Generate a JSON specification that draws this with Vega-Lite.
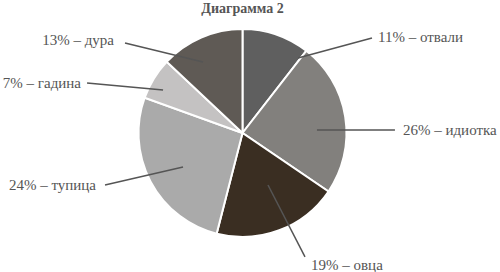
{
  "$schema": "https://vega.github.io/schema/vega-lite/v6.json",
  "autosize": "none",
  "width": 485,
  "height": 234,
  "padding": {"left": 0, "top": 16, "right": 15, "bottom": 22},
  "background": "white",
  "title": {
    "text": "Диаграмма 2",
    "anchor": "middle",
    "frame": "group",
    "offset": 0,
    "font": "Times New Roman, Liberation Serif, serif",
    "fontSize": 14,
    "fontWeight": "bold",
    "color": "#555555"
  },
  "config": {"view": {"stroke": null}},
  "datasets": {
    "slices": [
      {"name": "отвали", "value": 10.5, "ord": 1},
      {"name": "идиотка", "value": 24, "ord": 2},
      {"name": "овца", "value": 19.5, "ord": 3},
      {"name": "тупица", "value": 26.5, "ord": 4},
      {"name": "гадина", "value": 6.5, "ord": 5},
      {"name": "дура", "value": 13, "ord": 6}
    ],
    "callouts": [
      {"name": "отвали", "text": "11% – отвали", "side": "right", "u1": 0.534, "v1": 0.721, "u2": 1.245, "v2": 0.913, "lu": 1.303, "lv": 0.923},
      {"name": "идиотка", "text": "26% – идиотка", "side": "right", "u1": 0.716, "v1": 0.029, "u2": 1.466, "v2": 0.029, "lu": 1.543, "lv": 0.029},
      {"name": "овца", "text": "19% – овца", "side": "right", "u1": 0.245, "v1": -0.5, "u2": 0.601, "v2": -1.192, "lu": 0.659, "lv": -1.269},
      {"name": "тупица", "text": "24% – тупица", "side": "left", "u1": -0.572, "v1": -0.327, "u2": -1.322, "v2": -0.5, "lu": -1.409, "lv": -0.5},
      {"name": "гадина", "text": "7% – гадина", "side": "left", "u1": -0.764, "v1": 0.413, "u2": -1.495, "v2": 0.481, "lu": -1.553, "lv": 0.481},
      {"name": "дура", "text": "13% – дура", "side": "left", "u1": -0.38, "v1": 0.683, "u2": -1.13, "v2": 0.865, "lu": -1.236, "lv": 0.894}
    ]
  },
  "layer": [
    {
      "data": {"name": "slices"},
      "mark": {"type": "arc", "outerRadius": 104, "stroke": "white", "strokeWidth": 2},
      "encoding": {
        "theta": {"field": "value", "type": "quantitative", "stack": true},
        "order": {"field": "ord", "type": "quantitative"},
        "color": {
          "field": "name",
          "type": "nominal",
          "legend": null,
          "scale": {
            "domain": ["отвали", "идиотка", "овца", "тупица", "гадина", "дура"],
            "range": ["#5f5f5f", "#82807d", "#3a2e22", "#aaaaaa", "#c4c2c2", "#5f5a55"]
          }
        }
      }
    },
    {
      "data": {"name": "callouts"},
      "mark": {"type": "rule", "color": "#555555", "strokeWidth": 1.5},
      "encoding": {
        "x": {"field": "u1", "type": "quantitative", "axis": null, "scale": {"domain": [-2.332, 2.332], "nice": false, "zero": false}},
        "y": {"field": "v1", "type": "quantitative", "axis": null, "scale": {"domain": [-1.125, 1.125], "nice": false, "zero": false}},
        "x2": {"field": "u2"},
        "y2": {"field": "v2"}
      }
    },
    {
      "data": {"name": "callouts"},
      "transform": [{"filter": "datum.side === 'right'"}],
      "mark": {"type": "text", "align": "left", "baseline": "middle", "font": "Times New Roman, Liberation Serif, serif", "fontSize": 15, "color": "#555555"},
      "encoding": {
        "x": {"field": "lu", "type": "quantitative", "axis": null, "scale": {"domain": [-2.332, 2.332], "nice": false, "zero": false}},
        "y": {"field": "lv", "type": "quantitative", "axis": null, "scale": {"domain": [-1.125, 1.125], "nice": false, "zero": false}},
        "text": {"field": "text"}
      }
    },
    {
      "data": {"name": "callouts"},
      "transform": [{"filter": "datum.side === 'left'"}],
      "mark": {"type": "text", "align": "right", "baseline": "middle", "font": "Times New Roman, Liberation Serif, serif", "fontSize": 15, "color": "#555555"},
      "encoding": {
        "x": {"field": "lu", "type": "quantitative", "axis": null, "scale": {"domain": [-2.332, 2.332], "nice": false, "zero": false}},
        "y": {"field": "lv", "type": "quantitative", "axis": null, "scale": {"domain": [-1.125, 1.125], "nice": false, "zero": false}},
        "text": {"field": "text"}
      }
    }
  ]
}
